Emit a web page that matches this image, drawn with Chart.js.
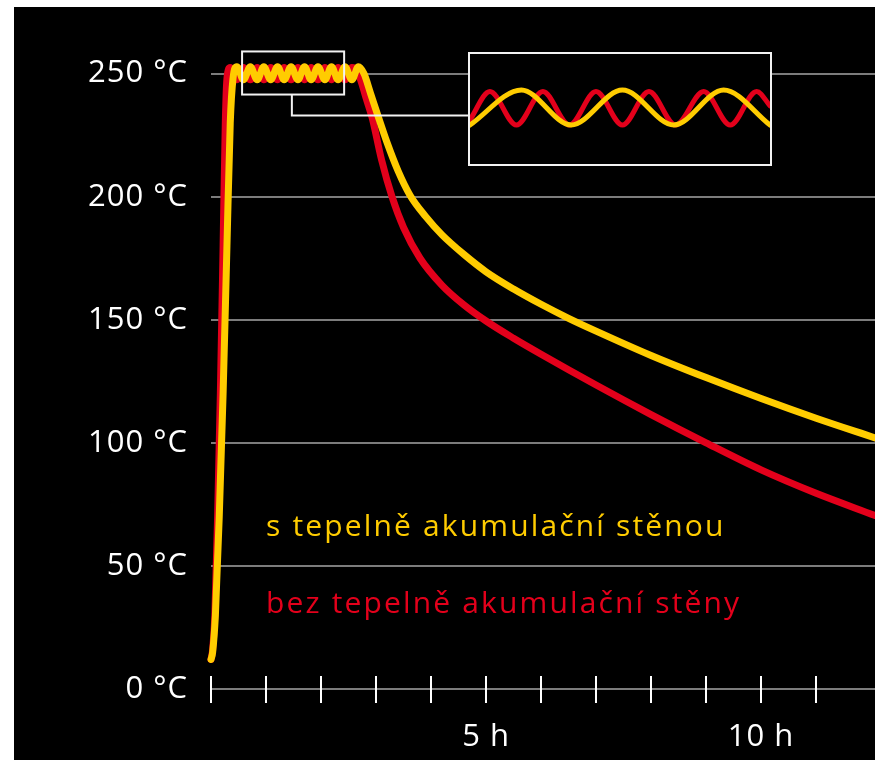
<!DOCTYPE html>
<html>
<head>
<meta charset="utf-8">
<script src="https://cdn.jsdelivr.net/npm/chart.js@4.4.1/dist/chart.umd.min.js"></script>
<style>
  html, body { margin: 0; padding: 0; background: #fff; }
  body { width: 875px; height: 760px; position: relative; overflow: hidden; }
  #wrap { position: absolute; left: 14px; top: 7px; width: 861px; height: 753px; background: #000; }
  #inset { position: absolute; left: 468px; top: 52px; width: 304px; height: 114px; border: 2px solid #f2f2f2; box-sizing: border-box; background: #000; }
</style>
</head>
<body>
<div id="wrap"><canvas id="graf"></canvas></div>
<div id="inset"><canvas id="detail"></canvas></div>
<script>
// popisky
const seriesNames = ["s tepelně akumulační stěnou", "bez tepelně akumulační stěny"];
const tempTicks = [0, 50, 100, 150, 200, 250];
const hourTicks = [0, 1, 2, 3, 4, 5, 6, 7, 8, 9, 10, 11];
const hourLabels = [5, 10];

// s akumulační stěnou (žlutá)
const yellowHours = [0, 0.03, 0.08, 0.15, 0.22, 0.29, 0.35, 0.40,
  0.47, 0.59, 0.715, 0.84, 0.96, 1.085, 1.21, 1.33, 1.455, 1.58, 1.70, 1.82, 1.945, 2.07, 2.19, 2.31, 2.435, 2.56, 2.68,
  2.78, 2.9, 3.04, 3.2, 3.4, 3.62, 3.9, 4.2, 4.6, 5.0, 5.5, 6.0, 6.5, 7.0, 8.0, 9.0, 10.0, 11.0, 12.07];
const yellowTemps = [12, 15, 30, 70, 120, 180, 230, 248,
  252.8, 247.5, 252.8, 247.5, 252.8, 247.5, 252.8, 247.5, 252.8, 247.5, 252.8, 247.5, 252.8, 247.5, 252.8, 247.5, 252.8, 247.5, 252.8,
  250, 242, 232.5, 222, 210.5, 200.5, 192, 184.5, 176.5, 169.5, 162.5, 156.3, 150.6, 145.4, 135.5, 126.5, 118, 110, 102];

// bez akumulační stěny (červená)
const redHours = [0, 0.03, 0.07, 0.12, 0.17, 0.22, 0.26, 0.29,
  0.35, 0.47, 0.59, 0.715, 0.84, 0.96, 1.085, 1.21, 1.33, 1.455, 1.58, 1.70, 1.82, 1.945, 2.07, 2.19, 2.31, 2.435, 2.56,
  2.66, 2.74, 2.82, 2.93, 3.1, 3.29, 3.5, 3.8, 4.2, 4.6, 5.0, 5.5, 6.0, 7.0, 8.0, 9.0, 10.0, 11.0, 12.07];
const redTemps = [12, 16, 30, 70, 120, 180, 230, 248,
  252.5, 247.5, 252.5, 247.5, 252.5, 247.5, 252.5, 247.5, 252.5, 247.5, 252.5, 247.5, 252.5, 247.5, 252.5, 247.5, 252.5, 247.5, 252.5,
  251, 246, 240, 232, 215, 200, 187.5, 175, 164, 156, 149.5, 142.5, 136, 123.5, 111.5, 100, 89, 79.5, 70.5];

// detail kolísání (výřez)
const detailYellowX = [0, 51.7, 101.7, 153.3, 205, 255, 301.7];
const detailYellowY = [-1, 1, -1, 1, -1, 1, -1];
const detailRedX = [0, 20, 46.7, 73.3, 100, 126.7, 153.3, 180, 206.7, 235, 261.7, 288.3, 301.7];
const detailRedY = [-0.7, 0.92, -1, 0.92, -1, 0.92, -1, 0.92, -1, 0.92, -1, 0.92, 0.1];

const yellow = "#ffcc00";
const red = "#e3001b";
const font = "'Open Sans', sans-serif";

function points(xs, ys) {
  return xs.map((x, i) => ({ x: x, y: ys[i] }));
}

const decor = {
  id: "decor",
  beforeDraw(chart) {
    chart.ctx.letterSpacing = "1px";
  },
  afterDatasetsDraw(chart) {
    const ctx = chart.ctx;
    const x = chart.scales.x;
    const y = chart.scales.y;
    const base = y.getPixelForValue(0);
    ctx.save();
    ctx.strokeStyle = "#fff";
    ctx.lineWidth = 2;
    hourTicks.forEach(function (h) {
      const px = Math.round(x.getPixelForValue(h));
      ctx.beginPath();
      ctx.moveTo(px, base - 13);
      ctx.lineTo(px, base + 14);
      ctx.stroke();
    });
    // rámeček a spojnice k detailu
    ctx.strokeStyle = "#f2f2f2";
    const l = x.getPixelForValue(0.565), r = x.getPixelForValue(2.42);
    const t = y.getPixelForValue(259), b = y.getPixelForValue(241.5);
    ctx.strokeRect(l, t, r - l, b - t);
    const cx = x.getPixelForValue(1.47);
    const cy = y.getPixelForValue(233);
    ctx.beginPath();
    ctx.moveTo(cx, b);
    ctx.lineTo(cx, cy);
    ctx.lineTo(x.getPixelForValue(4.69), cy);
    ctx.stroke();
    // popisky křivek
    ctx.font = "30px " + font;
    ctx.letterSpacing = "2.15px";
    ctx.textBaseline = "alphabetic";
    ctx.fillStyle = yellow;
    ctx.fillText(seriesNames[0], x.getPixelForValue(1.0), y.getPixelForValue(62));
    ctx.fillStyle = red;
    ctx.fillText(seriesNames[1], x.getPixelForValue(1.0), y.getPixelForValue(31));
    ctx.restore();
  }
};

document.addEventListener("DOMContentLoaded", function () {
  const ctx = document.getElementById("graf").getContext("2d");
  new Chart(ctx, {
    type: "line",
    data: {
      datasets: [{
        label: seriesNames[0],
        data: points(yellowHours, yellowTemps),
        borderColor: yellow,
        borderWidth: 7,
        order: 0
      }, {
        label: seriesNames[1],
        data: points(redHours, redTemps),
        borderColor: red,
        borderWidth: 7,
        order: 1
      }]
    },
    options: {
      responsive: true,
      maintainAspectRatio: false,
      animation: false,
      layout: { padding: { top: 10, left: 0, right: 0, bottom: 0 } },
      elements: {
        point: { radius: 0 },
        line: { cubicInterpolationMode: "monotone", borderCapStyle: "round", borderJoinStyle: "round", fill: false }
      },
      datasets: { line: { clip: false } },
      plugins: { legend: { display: false }, tooltip: { enabled: false } },
      scales: {
        x: {
          type: "linear",
          min: 0,
          max: 12.07,
          afterBuildTicks: function (scale) { scale.ticks = hourTicks.map(v => ({ value: v })); },
          afterFit: function (scale) {
            scale.height = 71;
            scale.paddingLeft = 0;
            scale.paddingRight = 0;
          },
          grid: { display: false },
          border: { display: false },
          ticks: {
            autoSkip: false,
            maxRotation: 0,
            padding: 22,
            color: "#fff",
            font: { family: font, size: 31 },
            callback: function (v) { return hourLabels.includes(v) ? v + " h" : ""; }
          }
        },
        y: {
          min: 0,
          max: 273,
          afterBuildTicks: function (scale) { scale.ticks = tempTicks.map(v => ({ value: v })); },
          afterFit: function (scale) {
            scale.width = 197;
            scale.paddingTop = 0;
            scale.paddingBottom = 0;
          },
          grid: { color: "#7c7c7c", lineWidth: 2, drawTicks: false },
          border: { display: false },
          ticks: {
            padding: 23,
            color: "#fff",
            font: { family: font, size: 31 },
            callback: function (v) { return v + " °C"; }
          }
        }
      }
    },
    plugins: [decor]
  });

  const ctx2 = document.getElementById("detail").getContext("2d");
  new Chart(ctx2, {
    type: "line",
    data: {
      datasets: [{
        data: points(detailYellowX, detailYellowY),
        borderColor: yellow,
        borderWidth: 5,
        order: 0
      }, {
        data: points(detailRedX, detailRedY),
        borderColor: red,
        borderWidth: 5,
        order: 1
      }]
    },
    options: {
      responsive: true,
      maintainAspectRatio: false,
      animation: false,
      layout: { padding: 0 },
      elements: {
        point: { radius: 0 },
        line: { cubicInterpolationMode: "monotone", borderCapStyle: "round", fill: false }
      },
      plugins: { legend: { display: false }, tooltip: { enabled: false } },
      scales: {
        x: { type: "linear", min: 0, max: 301.7, display: false },
        y: { min: -3.23, max: 3.06, display: false }
      }
    }
  });
});
</script>
</body>
</html>
